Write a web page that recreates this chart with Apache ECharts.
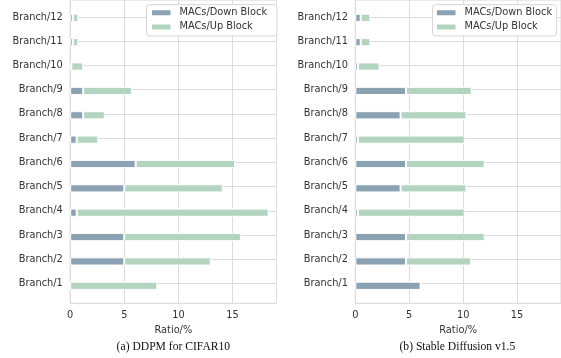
<!DOCTYPE html>
<html>
<head>
<meta charset="utf-8">
<script src="https://cdn.jsdelivr.net/npm/echarts@6/dist/echarts.min.js"></script>
<style>
  html, body { margin: 0; padding: 0; background: #fff; }
  #chart { width: 561px; height: 358px; }
</style>
</head>
<body>
<div id="chart"></div>
<script>
// Branch labels, bottom to top
const branches = ['Branch/1', 'Branch/2', 'Branch/3', 'Branch/4', 'Branch/5', 'Branch/6',
                  'Branch/7', 'Branch/8', 'Branch/9', 'Branch/10', 'Branch/11', 'Branch/12'];
const branchTicks = [0, 1, 2, 3, 4, 5, 6, 7, 8, 9, 10, 11];

// (a) DDPM for CIFAR10, ratio in %
const ddpmDown = [0, 5.0, 5.0, 0.6, 5.0, 6.05, 0.6, 1.2, 1.2, 0.1, 0.25, 0.25];
const ddpmUp   = [8.05, 8.0, 10.8, 17.75, 9.1, 9.2, 2.0, 2.0, 4.5, 1.1, 0.5, 0.5];

// (b) Stable Diffusion v1.5, ratio in %
const sdDown = [6.05, 4.7, 4.7, 0.25, 4.2, 4.7, 0.25, 4.2, 4.7, 0.25, 0.5, 0.5];
const sdUp   = [0, 6.05, 7.3, 9.9, 6.1, 7.3, 9.9, 6.1, 6.1, 2.0, 0.9, 0.9];

const xTicks = [0, 5, 10, 15];
const seriesNames = ['MACs/Down Block', 'MACs/Up Block'];
const captions = ['(a) DDPM for CIFAR10', '(b) Stable Diffusion v1.5'];

const X_MAX = 19.07;
const COLOR_DOWN = '#8ba2b3';
const COLOR_UP = '#b3d5c0';
const GRID_COLOR = '#dcdcdc';
const TEXT_COLOR = '#333';
const SANS = 'DejaVu Sans';
const FS = 9.8;

const chart = echarts.init(document.getElementById('chart'), null, { renderer: 'canvas' });

// one panel = frame grid (spines, grid lines, labels) + bar grid (category axis)
const panels = [
  { left: 70.2, width: 206.3, down: ddpmDown, up: ddpmUp, caption: captions[0] },
  { left: 355.3, width: 207.1, down: sdDown, up: sdUp, caption: captions[1] }
];

const grids = [], xAxes = [], yAxes = [], series = [], graphics = [];

panels.forEach((p, i) => {
  const frame = grids.length;
  grids.push({ left: p.left, width: p.width, top: -1.71, height: 305.01,
               show: true, borderColor: '#d6d6d6', borderWidth: 1, backgroundColor: 'transparent' });
  grids.push({ left: p.left, width: p.width, top: 5.66, height: 292.32 });

  xAxes.push({
    type: 'value', gridIndex: frame, min: 0, max: X_MAX, interval: 5,
    axisLine: { show: false }, axisTick: { show: false },
    axisLabel: { color: TEXT_COLOR, fontFamily: SANS, fontSize: FS, margin: 7, customValues: xTicks },
    splitLine: { show: true, lineStyle: { color: GRID_COLOR, width: 1 } },
    name: 'Ratio/%', nameLocation: 'middle', nameGap: 20,
    nameTextStyle: { color: TEXT_COLOR, fontFamily: SANS, fontSize: FS }
  });
  xAxes.push({ type: 'value', gridIndex: frame + 1, min: 0, max: X_MAX, show: false });

  yAxes.push({
    type: 'value', gridIndex: frame, min: -0.82, max: 11.7,
    axisLine: { show: false },
    axisTick: { show: false, customValues: branchTicks },
    axisLabel: { color: TEXT_COLOR, fontFamily: SANS, fontSize: FS, margin: 7.4,
                 customValues: branchTicks, formatter: v => branches[Math.round(v)] },
    splitLine: { show: true, lineStyle: { color: GRID_COLOR, width: 1 } }
  });
  yAxes.push({ type: 'category', gridIndex: frame + 1, data: branches, show: false });

  [p.down, p.up].forEach((vals, k) => {
    series.push({
      type: 'bar', name: seriesNames[k], stack: 'panel' + i,
      xAxisIndex: frame + 1, yAxisIndex: frame + 1,
      barWidth: 8.2, data: vals,
      itemStyle: { color: k === 0 ? COLOR_DOWN : COLOR_UP, borderColor: '#fff', borderWidth: 1 },
      emphasis: { disabled: true }, animation: false
    });
  });

  graphics.push({
    type: 'text', x: p.left + p.width / 2 + (i === 0 ? 0 : -1.5), y: 346.5,
    style: { text: p.caption, textAlign: 'center', textVerticalAlign: 'middle',
             font: '11.6px "Liberation Serif", "Times New Roman", serif', fill: '#111' }
  });
});

const legendBase = {
  orient: 'vertical', data: seriesNames, icon: 'rect',
  itemWidth: 20.5, itemHeight: 7, itemGap: 2.2,
  backgroundColor: '#fff', borderColor: '#d6d6d6', borderWidth: 1, borderRadius: 3,
  textStyle: { color: TEXT_COLOR, fontFamily: SANS, fontSize: FS, lineHeight: 12, padding: [0, 0, 0, 3] },
  selectedMode: false
};

chart.setOption({
  animation: false,
  grid: grids,
  xAxis: xAxes,
  yAxis: yAxes,
  series: series,
  legend: [
    Object.assign({}, legendBase, { left: 146.5, top: 4.7, padding: [2, 10, 3, 3.5] }),
    Object.assign({}, legendBase, { left: 432.5, top: 4.7, padding: [2, 4.5, 3, 2.5] })
  ],
  graphic: graphics
});
</script>
</body>
</html>
